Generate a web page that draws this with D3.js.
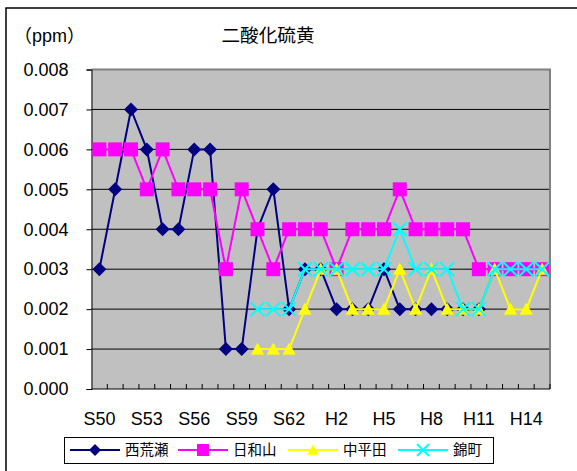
<!DOCTYPE html>
<html>
<head>
<meta charset="utf-8">
<script src="https://cdn.jsdelivr.net/npm/d3@7/dist/d3.min.js"></script>
<style>
  body { margin: 0; background: #fff; }
  svg { display: block; }
</style>
</head>
<body>
<svg id="chart" width="577" height="471"></svg>
<script>
// Fiscal years S50 (1975) .. H15 (2003)
const years = [
  "S50","S51","S52","S53","S54","S55","S56","S57","S58","S59","S60","S61","S62","S63",
  "H1","H2","H3","H4","H5","H6","H7","H8","H9","H10","H11","H12","H13","H14","H15"
];
const tickLabels = ["S50","S53","S56","S59","S62","H2","H5","H8","H11","H14"];
const yTicks = [0, 0.001, 0.002, 0.003, 0.004, 0.005, 0.006, 0.007, 0.008];

// Annual mean SO2 (ppm) by station
const nishiarase = [0.003,0.005,0.007,0.006,0.004,0.004,0.006,0.006,0.001,0.001,
  0.004,0.005,0.002,0.003,0.003,0.002,0.002,0.002,0.003,0.002,
  0.002,0.002,0.002,0.002,0.002,0.003,0.003,0.003,0.003];
const hiyoriyama = [0.006,0.006,0.006,0.005,0.006,0.005,0.005,0.005,0.003,0.005,
  0.004,0.003,0.004,0.004,0.004,0.003,0.004,0.004,0.004,0.005,
  0.004,0.004,0.004,0.004,0.003,0.003,0.003,0.003,0.003];
const nakahirata = [null,null,null,null,null,null,null,null,null,null,
  0.001,0.001,0.001,0.002,0.003,0.003,0.002,0.002,0.002,0.003,
  0.002,0.003,0.002,0.002,0.002,0.003,0.002,0.002,0.003];
const nishikimachi = [null,null,null,null,null,null,null,null,null,null,
  0.002,0.002,0.002,0.003,0.003,0.003,0.003,0.003,0.003,0.004,
  0.003,0.003,0.003,0.002,0.002,0.003,0.003,0.003,0.003];

const series = [
  { name: "西荒瀬", values: nishiarase, color: "#000080", marker: "diamond" },
  { name: "日和山", values: hiyoriyama, color: "#FF00FF", marker: "square" },
  { name: "中平田", values: nakahirata, color: "#FFFF00", marker: "triangle" },
  { name: "錦町",   values: nishikimachi, color: "#00FFFF", marker: "cross" }
];

const latin = "'Liberation Sans', Arial, 'Noto Sans CJK JP', sans-serif";
const cjk = "'Noto Sans CJK JP', 'Liberation Sans', sans-serif";

const svg = d3.select("#chart");
const plot = { left: 91.5, right: 550, top: 69.5, bottom: 389 };

// Outer chart frame
svg.append("rect")
  .attr("x", 6).attr("y", 8).attr("width", 600).attr("height", 500)
  .attr("fill", "#fff").attr("stroke", "#000").attr("stroke-width", 1.5);

const x = d3.scaleBand().domain(years).range([plot.left, plot.right]).padding(0);
const y = d3.scaleLinear().domain([0, 0.008]).range([plot.bottom, plot.top]);

// Plot area
svg.append("rect")
  .attr("x", plot.left).attr("y", plot.top)
  .attr("width", plot.right - plot.left).attr("height", plot.bottom - plot.top)
  .attr("fill", "#C0C0C0");

// Gridlines
svg.append("g")
  .selectAll("line")
  .data(yTicks.filter(v => v > 0 && v < 0.008))
  .join("line")
  .attr("x1", plot.left).attr("x2", plot.right)
  .attr("y1", d => y(d)).attr("y2", d => y(d))
  .attr("stroke", "#000").attr("stroke-width", 1);

// Plot area border (top and right)
svg.append("path")
  .attr("d", `M${plot.left},${plot.top}H${plot.right}V${plot.bottom}`)
  .attr("fill", "none").attr("stroke", "#808080").attr("stroke-width", 2);

// Y axis
const yAxis = svg.append("g")
  .attr("transform", `translate(${plot.left},0)`)
  .call(d3.axisLeft(y).tickValues(yTicks).tickFormat(d3.format(".3f"))
    .tickSize(5).tickPadding(18));
yAxis.select(".domain").attr("stroke", "#000");
yAxis.selectAll("text").attr("font-family", latin).attr("font-size", 18).attr("fill", "#000");

// X axis: inner ticks at category boundaries, labels every third year
const xAxis = svg.append("g")
  .attr("transform", `translate(0,${plot.bottom})`)
  .call(d3.axisBottom(x).tickValues(tickLabels).tickSize(0).tickPadding(10));
xAxis.select(".domain").remove();
xAxis.selectAll("text").attr("font-family", latin).attr("font-size", 18).attr("fill", "#000")
  .attr("y", 23).attr("dy", "0.71em");

const edges = years.map(d => x(d)).concat([x(years[years.length - 1]) + x.bandwidth()]);
svg.append("g").selectAll("line")
  .data(edges.slice(1))
  .join("line")
  .attr("x1", d => d).attr("x2", d => d)
  .attr("y1", plot.bottom).attr("y2", plot.bottom - 5)
  .attr("stroke", "#000").attr("stroke-width", 1);
svg.append("line")
  .attr("x1", plot.left).attr("x2", plot.right)
  .attr("y1", plot.bottom).attr("y2", plot.bottom)
  .attr("stroke", "#000").attr("stroke-width", 1);

// Marker drawing
function drawMarker(g, type, color, size) {
  const h = size / 2;
  if (type === "diamond") {
    g.append("path").attr("d", `M0,${-h}L${h},0L0,${h}L${-h},0Z`).attr("fill", color);
  } else if (type === "square") {
    g.append("rect").attr("x", -h).attr("y", -h).attr("width", size).attr("height", size).attr("fill", color);
  } else if (type === "triangle") {
    const t = h * 0.95;
    g.append("path").attr("d", `M0,${-t}L${t},${t * 0.85}L${-t},${t * 0.85}Z`).attr("fill", color);
  } else {
    g.append("path").attr("d", `M${-h},${-h}L${h},${h}M${h},${-h}L${-h},${h}`)
      .attr("stroke", color).attr("stroke-width", 2).attr("fill", "none");
  }
}

const cx = d => x(d) + x.bandwidth() / 2;
const line = d3.line()
  .defined(d => d.v != null)
  .x(d => cx(d.year))
  .y(d => y(d.v));

series.forEach(s => {
  const pts = s.values.map((v, i) => ({ year: years[i], v }));
  const g = svg.append("g");
  g.append("path").datum(pts).attr("d", line)
    .attr("fill", "none").attr("stroke", s.color).attr("stroke-width", 2);
  pts.filter(p => p.v != null).forEach(p => {
    const m = g.append("g").attr("transform", `translate(${cx(p.year)},${y(p.v)})`);
    drawMarker(m, s.marker, s.color, 14);
  });
});

// Titles
svg.append("text").attr("x", 268).attr("y", 42).attr("text-anchor", "middle")
  .attr("font-family", cjk).attr("font-size", 18.6).attr("fill", "#000").text("二酸化硫黄");
svg.append("text").attr("x", 14).attr("y", 42)
  .attr("font-family", latin).attr("font-size", 18).attr("fill", "#000").text("（ppm）");

// Legend
const legend = svg.append("g");
legend.append("rect").attr("x", 64.5).attr("y", 437.5).attr("width", 429).attr("height", 26)
  .attr("fill", "#fff").attr("stroke", "#000").attr("stroke-width", 1);
const legendX = [70, 178, 288, 398];
series.forEach((s, i) => {
  const g = legend.append("g").attr("transform", `translate(${legendX[i]},450)`);
  g.append("line").attr("x1", 0).attr("x2", 50).attr("y1", 0).attr("y2", 0)
    .attr("stroke", s.color).attr("stroke-width", 2);
  const m = g.append("g").attr("transform", "translate(25,0)");
  drawMarker(m, s.marker, s.color, 12);
  g.append("text").attr("x", 55).attr("y", 0).attr("dy", "0.35em")
    .attr("font-family", cjk).attr("font-size", 14.5).attr("fill", "#000").text(s.name);
});
</script>
</body>
</html>
